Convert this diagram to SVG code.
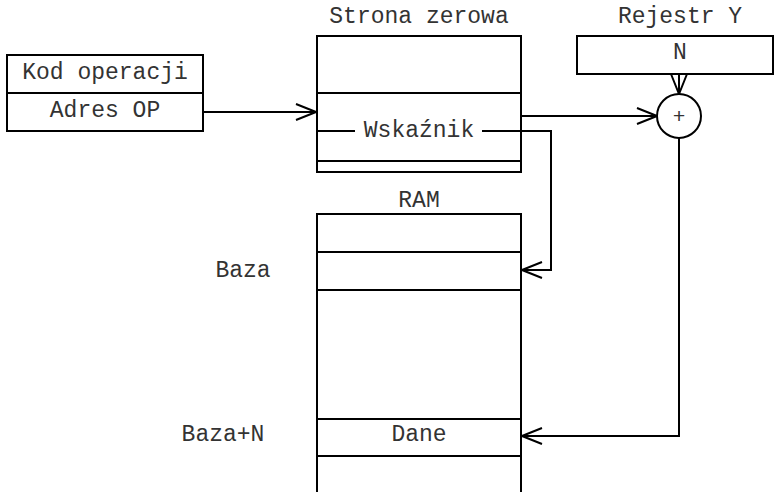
<svg xmlns="http://www.w3.org/2000/svg" width="775" height="492" viewBox="0 0 775 492">
<style>
.b{fill:#fff;stroke:#000;stroke-width:2}
.l{fill:none;stroke:#000;stroke-width:2}
text{font-family:"Liberation Mono","Courier New",monospace;font-size:23px;fill:#333;text-anchor:middle}
</style>
<defs>
<marker id="a" viewBox="0 0 22 18" refX="21" refY="9" markerWidth="22" markerHeight="18" markerUnits="userSpaceOnUse" orient="auto">
<path d="M1,1 L21,9 L1,17" fill="none" stroke="#000" stroke-width="2"/>
</marker>
</defs>
<rect width="775" height="492" fill="#fff"/>
<g id="instr">
<rect class="b" x="7" y="55" width="196" height="76"/>
<line class="l" x1="7" y1="93" x2="203" y2="93"/>
<text x="105" y="79">Kod operacji</text>
<text x="105" y="117">Adres OP</text>
</g>
<g id="zeropage">
<text x="419" y="23">Strona zerowa</text>
<rect class="b" x="317" y="36" width="204" height="136"/>
<line class="l" x1="317" y1="93" x2="521" y2="93"/>
<line class="l" x1="317" y1="161" x2="521" y2="161"/>
<text x="419" y="137">Wskaźnik</text>
</g>
<g id="regY">
<text x="680" y="23">Rejestr Y</text>
<rect class="b" x="577" y="36" width="196" height="38"/>
<text x="680" y="59">N</text>
</g>
<g id="adder">
<circle class="b" cx="679" cy="116" r="22"/>
<text x="679" y="123" style="font-size:21px">+</text>
</g>
<g id="ram">
<text x="419" y="207">RAM</text>
<path class="l" d="M317,500 V214 H521 V500"/>
<line class="l" x1="317" y1="252" x2="521" y2="252"/>
<line class="l" x1="317" y1="290" x2="521" y2="290"/>
<line class="l" x1="317" y1="419" x2="521" y2="419"/>
<line class="l" x1="317" y1="456" x2="521" y2="456"/>
<text x="419" y="441">Dane</text>
<text x="243" y="277">Baza</text>
<text x="223" y="441">Baza+N</text>
</g>
<g id="connectors">
<line class="l" x1="203" y1="112" x2="316" y2="112" marker-end="url(#a)"/>
<line class="l" x1="521" y1="116" x2="657" y2="116" marker-end="url(#a)"/>
<line class="l" x1="679" y1="74" x2="679" y2="94" marker-end="url(#a)"/>
<line class="l" x1="317" y1="131" x2="355" y2="131"/>
<path class="l" d="M482,131 H551 V270 H522" marker-end="url(#a)"/>
<path class="l" d="M679,138 V436 H522" marker-end="url(#a)"/>
</g>
</svg>
